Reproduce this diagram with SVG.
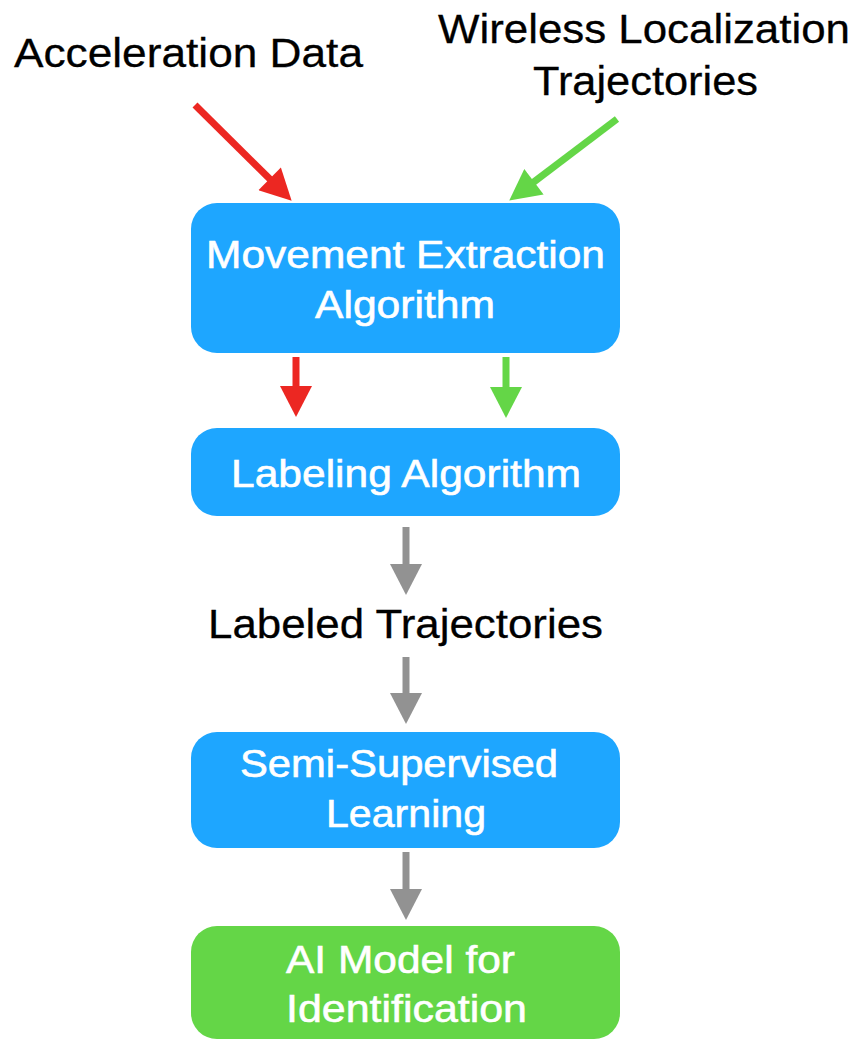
<svg xmlns="http://www.w3.org/2000/svg" width="857" height="1041" viewBox="0 0 857 1041">
  <style>
    .lbl { font-family: "Liberation Sans", Arial, sans-serif; font-size: 41px; fill: #000; stroke: #000; stroke-width: 0.3; }
    .wt { font-family: "Liberation Sans", Arial, sans-serif; font-size: 39px; fill: #fff; stroke: #fff; stroke-width: 0.6; }
    .blue { fill: #1EA6FF; }
    .green { fill: #64D647; }
    .ar { stroke-width: 7; fill: none; }
  </style>
  <defs>
    <marker id="mr" markerUnits="userSpaceOnUse" markerWidth="32" markerHeight="32" viewBox="0 0 30 31" refX="2" refY="15.5" orient="auto">
      <path d="M0,0 L30,15.5 L0,31 Z" fill="#EC2722"/>
    </marker>
    <marker id="mg" markerUnits="userSpaceOnUse" markerWidth="32" markerHeight="32" viewBox="0 0 30 31" refX="2" refY="15.5" orient="auto">
      <path d="M0,0 L30,15.5 L0,31 Z" fill="#64D647"/>
    </marker>
    <marker id="mk" markerUnits="userSpaceOnUse" markerWidth="32" markerHeight="32" viewBox="0 0 30 31" refX="2" refY="15.5" orient="auto">
      <path d="M0,0 L30,15.5 L0,31 Z" fill="#929292"/>
    </marker>
  </defs>
  <rect width="857" height="1041" fill="#fff"/>

  <g id="input-acceleration">
    <text class="lbl" x="14" y="67" textLength="349" lengthAdjust="spacingAndGlyphs">Acceleration Data</text>
  </g>
  <g id="input-wireless">
    <text class="lbl" x="438" y="43" textLength="412" lengthAdjust="spacingAndGlyphs">Wireless Localization</text>
    <text class="lbl" x="533" y="95" textLength="225" lengthAdjust="spacingAndGlyphs">Trajectories</text>
  </g>

  <g id="movement-extraction">
    <rect class="blue" x="191" y="203" width="429" height="150" rx="26"/>
    <text class="wt" x="206" y="268" textLength="399" lengthAdjust="spacingAndGlyphs">Movement Extraction</text>
    <text class="wt" x="315" y="318" textLength="180" lengthAdjust="spacingAndGlyphs">Algorithm</text>
  </g>

  <g id="labeling">
    <rect class="blue" x="191" y="428" width="429" height="88" rx="26"/>
    <text class="wt" x="231" y="487" textLength="350" lengthAdjust="spacingAndGlyphs">Labeling Algorithm</text>
  </g>

  <g id="labeled-trajectories">
    <text class="lbl" x="208" y="638" textLength="395" lengthAdjust="spacingAndGlyphs">Labeled Trajectories</text>
  </g>

  <g id="semi-supervised">
    <rect class="blue" x="191" y="732" width="429" height="116" rx="26"/>
    <text class="wt" x="240" y="777" textLength="318" lengthAdjust="spacingAndGlyphs">Semi-Supervised</text>
    <text class="wt" x="326" y="827" textLength="160" lengthAdjust="spacingAndGlyphs">Learning</text>
  </g>

  <g id="ai-model">
    <rect class="green" x="191" y="926" width="429" height="113" rx="26"/>
    <text class="wt" x="286" y="973" textLength="229" lengthAdjust="spacingAndGlyphs">AI Model for</text>
    <text class="wt" x="286" y="1022" textLength="241" lengthAdjust="spacingAndGlyphs">Identification</text>
  </g>

  <g id="connectors">
    <line class="ar" x1="195" y1="105" x2="271.1" y2="180.3" stroke="#EC2722" marker-end="url(#mr)"/>
    <line class="ar" x1="617" y1="119" x2="532.3" y2="183.1" stroke="#64D647" marker-end="url(#mg)"/>
    <line class="ar" x1="296" y1="357" x2="296" y2="388" stroke="#EC2722" marker-end="url(#mr)"/>
    <line class="ar" x1="506" y1="357" x2="506" y2="389" stroke="#64D647" marker-end="url(#mg)"/>
    <line class="ar" x1="406" y1="527" x2="406" y2="566" stroke="#929292" marker-end="url(#mk)"/>
    <line class="ar" x1="406" y1="657" x2="406" y2="695" stroke="#929292" marker-end="url(#mk)"/>
    <line class="ar" x1="406" y1="852" x2="406" y2="891" stroke="#929292" marker-end="url(#mk)"/>
  </g>
</svg>
